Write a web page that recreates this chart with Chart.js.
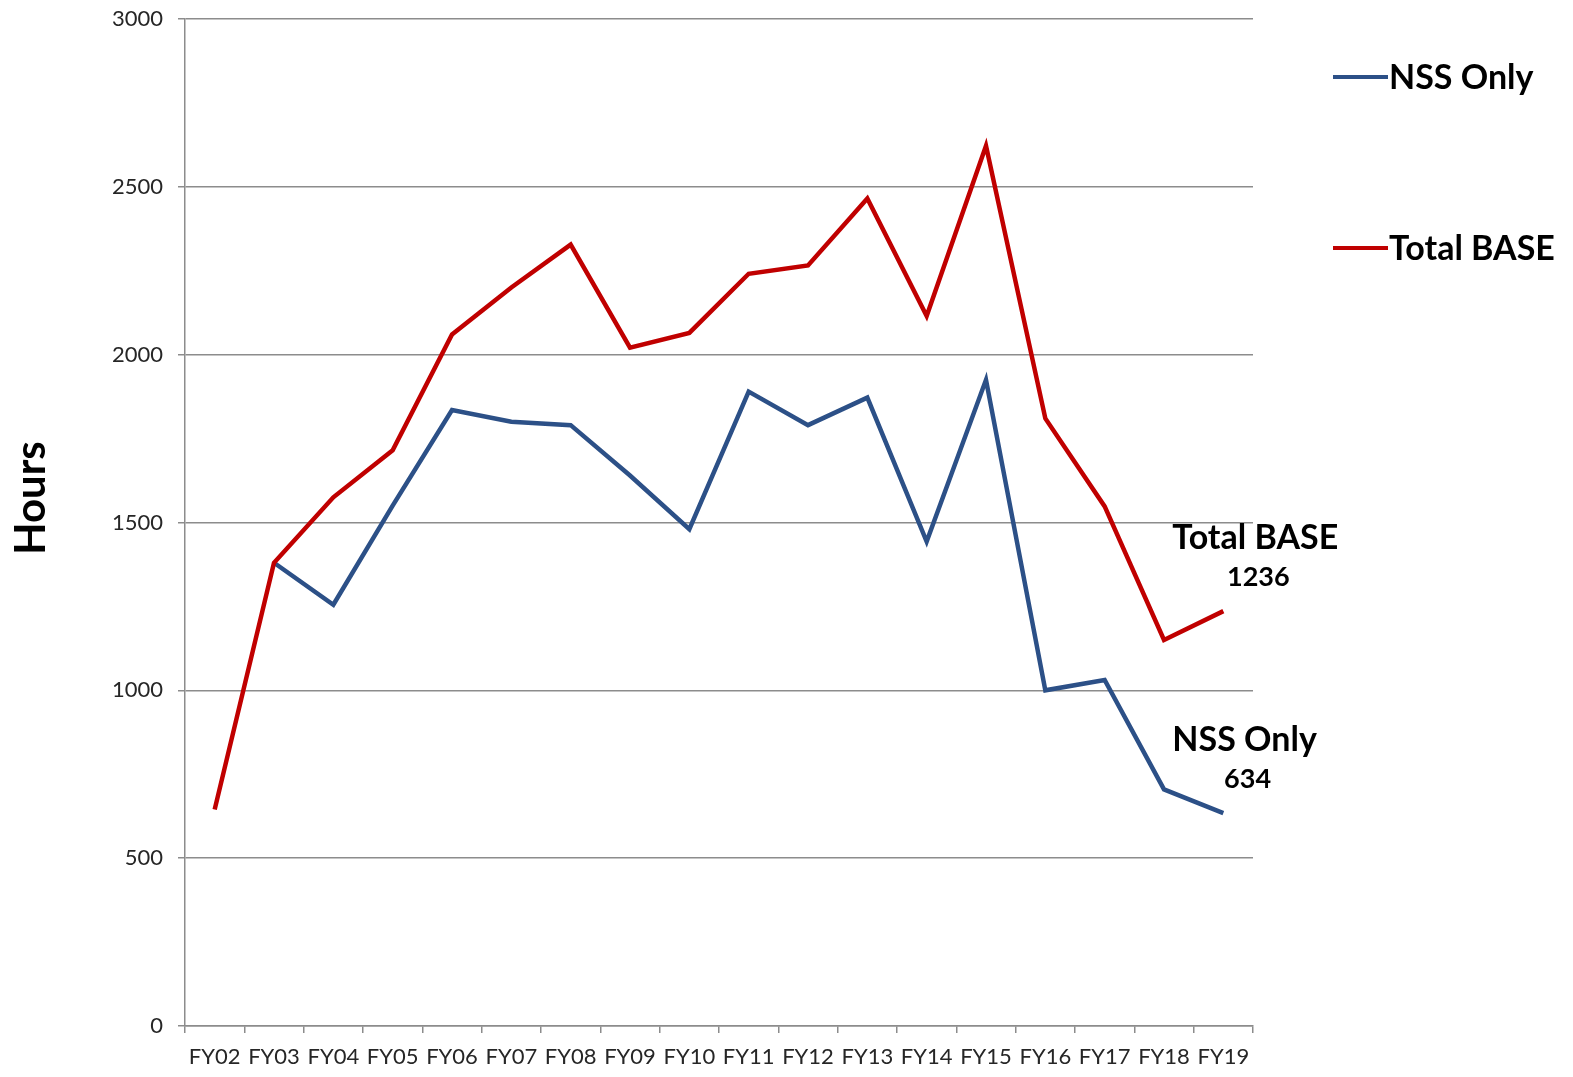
<!DOCTYPE html>
<html>
<head>
<meta charset="utf-8">
<script src="https://cdn.jsdelivr.net/npm/chart.js@4.4.1/dist/chart.umd.min.js"></script>
<style>
  html, body { margin: 0; padding: 0; background: #ffffff; }
  #wrap { width: 1573px; height: 1077px; position: relative; }
</style>
</head>
<body>
<div id="wrap"><canvas id="chart" width="1573" height="1077"></canvas></div>
<script>
// Fiscal years on the category axis
const categories = ['FY02','FY03','FY04','FY05','FY06','FY07','FY08','FY09','FY10',
                    'FY11','FY12','FY13','FY14','FY15','FY16','FY17','FY18','FY19'];

// Hours per year for each series
const nssOnly   = [null, 1380, 1255, 1550, 1835, 1800, 1790, 1640, 1480,
                   1890, 1790, 1872, 1443, 1925, 1000, 1031, 705, 634];
const totalBase = [645, 1380, 1575, 1715, 2060, 2200, 2328, 2021, 2065,
                   2241, 2266, 2465, 2115, 2622, 1810, 1548, 1150, 1236];

// Value axis ticks
const yTicks = [0, 500, 1000, 1500, 2000, 2500, 3000];

const seriesNames = ['NSS Only', 'Total BASE'];
const FONT = 'Lato, "Open Sans", "DejaVu Sans", sans-serif';
const GRID = '#8c8c8c';

// Draws the side legend, the end-of-line labels and the value-axis title
const annotate = {
  id: 'annotate',
  afterDraw(chart) {
    const ctx = chart.ctx;
    ctx.save();

    // axis title
    ctx.translate(31, 498);
    ctx.rotate(-Math.PI / 2);
    ctx.fillStyle = '#000';
    ctx.font = 'bold 42px ' + FONT;
    ctx.textAlign = 'center';
    ctx.textBaseline = 'middle';
    ctx.fillText('Hours', 0, 0);
    ctx.setTransform(1, 0, 0, 1, 0, 0);

    // legend
    const legendY = [77, 248];
    chart.data.datasets.forEach((ds, i) => {
      const y = legendY[i];
      ctx.strokeStyle = ds.borderColor;
      ctx.lineWidth = 4;
      ctx.beginPath();
      ctx.moveTo(1333, y);
      ctx.lineTo(1388, y);
      ctx.stroke();
      ctx.fillStyle = '#000';
      ctx.font = 'bold 34px ' + FONT;
      ctx.textAlign = 'left';
      ctx.textBaseline = 'middle';
      ctx.fillText(ds.label, 1389, y + 1);
    });

    // labels at the last point of each line
    chart.data.datasets.forEach((ds, i) => {
      const meta = chart.getDatasetMeta(i);
      const last = ds.data.length - 1;
      const pt = meta.data[last];
      const nameX = pt.x - 51;
      ctx.font = 'bold 34px ' + FONT;
      const w = ctx.measureText(ds.label).width;
      ctx.fillStyle = '#000';
      ctx.textAlign = 'left';
      ctx.textBaseline = 'middle';
      ctx.fillText(ds.label, nameX, pt.y - 73);
      ctx.font = 'bold 27px ' + FONT;
      ctx.textAlign = 'center';
      ctx.fillText(String(ds.data[last]), nameX + w / 2 + 3, pt.y - 34);
    });
    ctx.restore();
  }
};

new Chart(document.getElementById('chart'), {
  type: 'line',
  data: {
    labels: categories,
    datasets: [
      {
        label: seriesNames[0],
        data: nssOnly,
        borderColor: '#2c5087',
        backgroundColor: '#2c5087',
        borderWidth: 4.5,
        pointRadius: 0,
        tension: 0,
        order: 2
      },
      {
        label: seriesNames[1],
        data: totalBase,
        borderColor: '#c00000',
        backgroundColor: '#c00000',
        borderWidth: 4.5,
        pointRadius: 0,
        tension: 0,
        order: 1
      }
    ]
  },
  options: {
    responsive: false,
    animation: false,
    layout: { padding: { top: 19, right: 320, left: 0, bottom: 0 } },
    plugins: {
      legend: { display: false },
      tooltip: { enabled: false }
    },
    scales: {
      x: {
        offset: true,
        border: { display: true, color: GRID, width: 1.5 },
        grid: {
          offset: true,
          drawOnChartArea: false,
          drawTicks: true,
          tickLength: 7,
          color: GRID,
          lineWidth: 1.5
        },
        ticks: {
          color: '#262626',
          font: { family: FONT, size: 22 },
          padding: 11,
          maxRotation: 0,
          autoSkip: false
        },
        afterFit(scale) { scale.height = 51; }
      },
      y: {
        min: 0,
        max: 3000,
        afterBuildTicks(scale) { scale.ticks = yTicks.map(v => ({ value: v })); },
        border: { display: true, color: GRID, width: 1.5 },
        grid: {
          color: GRID,
          lineWidth: 1.5,
          drawTicks: true,
          tickLength: 7
        },
        ticks: {
          color: '#262626',
          font: { family: FONT, size: 22 },
          padding: 15,
          callback: (v) => String(v)
        },
        afterFit(scale) {
          scale.width = 185;
          scale.paddingTop = 0;
          scale.paddingBottom = 0;
        }
      }
    }
  },
  plugins: [annotate]
});
</script>
</body>
</html>
